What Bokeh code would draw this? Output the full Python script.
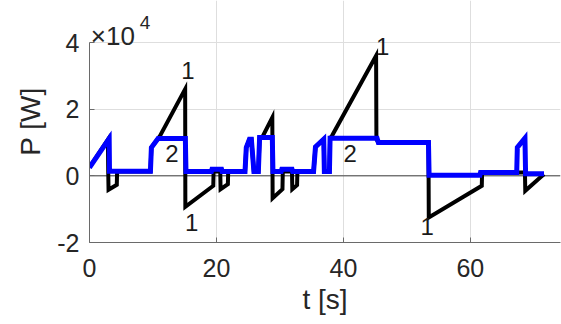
from bokeh.plotting import figure
from bokeh.models import Label, FixedTicker, Span
from bokeh.core.properties import value
from bokeh.embed import file_html
from bokeh.resources import INLINE

# Series 1 (black)
t_black = [0, 2.9, 2.95, 3.0, 4.3, 4.35, 9.6, 9.75, 10.8, 11.1, 15.07, 15.1, 19.5, 19.55,
           20.6, 20.65, 21.8, 21.85, 24.5, 24.7, 25.2, 25.5, 25.9, 26.6, 26.8, 27.2, 28.8,
           28.85, 30.4, 30.45, 31.9, 31.95, 32.7, 32.75, 35.3, 35.6, 36.9, 37.0, 37.8, 37.9,
           38.2, 45.15, 45.2, 45.5, 53.4, 53.45, 61.8, 61.85, 68.6, 68.65, 71.0, 71.6]
p_black = [2500, 10900, 1300, -4200, -2700, 1300, 1300, 8500, 11200, 12000, 26000, -9300, -3000, 1300,
           1300, -4000, -2500, 1300, 1300, 8500, 11000, 11000, 1300, 1300, 11500, 11500, 17500,
           -6700, -4000, 1300, 1300, -4000, -2800, 1300, 1300, 8700, 11000, 1300, 1300, 11300,
           12000, 36000, 11000, 10000, 10000, -12500, -3000, 1000, 1000, -4500, -500, 500]

# Series 2 (blue)
t_blue = [0, 3.1, 3.15, 9.6, 9.75, 10.8, 15.1, 15.2, 19.2, 19.3, 20.8, 20.9, 24.5, 24.7,
          25.2, 25.5, 25.9, 26.6, 26.8, 28.8, 28.9, 30.2, 30.3, 31.9, 32.0, 35.3, 35.6,
          36.9, 37.0, 37.8, 37.9, 45.3, 45.5, 53.4, 53.5, 61.5, 61.6, 67.3, 67.4, 68.6,
          68.7, 71.6]
p_blue = [2500, 11200, 1400, 1400, 8500, 11200, 11200, 1300, 1300, 2000, 2000, 1300, 1300, 8500,
          11000, 11000, 1300, 1300, 11500, 11500, 1300, 1300, 2000, 2000, 1300, 1300, 8700,
          11000, 1300, 1300, 11300, 11300, 10000, 10000, 200, 200, 1000, 1000, 8500, 11300,
          600, 600]

label_t = [15.5, 13.0, 16.1, 46.2, 41.05, 53.2]
label_p = [31500, 6600, -14100, 38700, 6600, -15300]
label_txt = ["1", "2", "1", "1", "2", "1"]

x_ticks = [0, 20, 40, 60]
y_ticks = [-20000, 0, 20000, 40000]
y_tick_labels = ["-2", "0", "2", "4"]

FONT = "Liberation Sans"
AX = "#6a6a6a"
TXT = "#262626"

# frame spans the full height above the x axis; the y axis line stops at 4e4
p = figure(width=561, height=324, x_range=(0, 74.2), y_range=(-20000, 52600),
           output_backend="svg", toolbar_location=None,
           min_border_left=89, min_border_right=1, min_border_top=0, min_border_bottom=82)
p.outline_line_color = None
p.background_fill_color = "white"
p.border_fill_color = "white"

p.add_layout(Span(location=0, dimension="width", line_color="#404040", line_width=1,
                  level="underlay"))

p.line(t_black, p_black, line_color="#000000", line_width=4, line_join="miter")
p.line(t_blue, p_blue, line_color="#0000ff", line_width=5, line_join="miter")

p.text(x=label_t, y=label_p, text=label_txt, text_font=value(FONT), text_font_size="24px",
       text_align="center", text_baseline="middle", text_color="#1a1a1a")

for ax in (p.xaxis[0], p.yaxis[0]):
    ax.axis_line_color = AX
    ax.major_tick_line_color = AX
    ax.minor_tick_line_color = None
    ax.major_tick_in = 5
    ax.major_tick_out = 0
    ax.major_label_text_font = FONT
    ax.major_label_text_font_size = "25px"
    ax.major_label_text_color = TXT
    ax.axis_label_text_font = FONT
    ax.axis_label_text_font_size = "28px"
    ax.axis_label_text_color = TXT
    ax.axis_label_text_font_style = "normal"

p.yaxis.bounds = (-20000, 40000)
p.xaxis.ticker = FixedTicker(ticks=x_ticks)
p.yaxis.ticker = FixedTicker(ticks=y_ticks)
p.yaxis.major_label_overrides = {v: s for v, s in zip(y_ticks, y_tick_labels)}
p.xaxis.axis_label = "t [s]"
p.yaxis.axis_label = "P [W]"
p.xaxis.major_label_standoff = 16
p.yaxis.major_label_standoff = 10
p.xaxis.axis_label_standoff = 4
p.yaxis.axis_label_standoff = 8

p.xgrid.ticker = FixedTicker(ticks=x_ticks)
p.ygrid.ticker = FixedTicker(ticks=y_ticks)
p.xgrid.bounds = (-20000, 40000)
p.grid.grid_line_color = "#dedede"
p.grid.grid_line_width = 1

p.add_layout(Label(x=0.2, y=42100, text="×10", text_font=FONT, text_font_size="26px",
                   text_color=TXT, text_baseline="alphabetic"))
p.add_layout(Label(x=7.9, y=46000, text="4", text_font=FONT, text_font_size="19px",
                   text_color=TXT, text_baseline="alphabetic"))

open("out.html", "w").write(file_html(p, INLINE))
